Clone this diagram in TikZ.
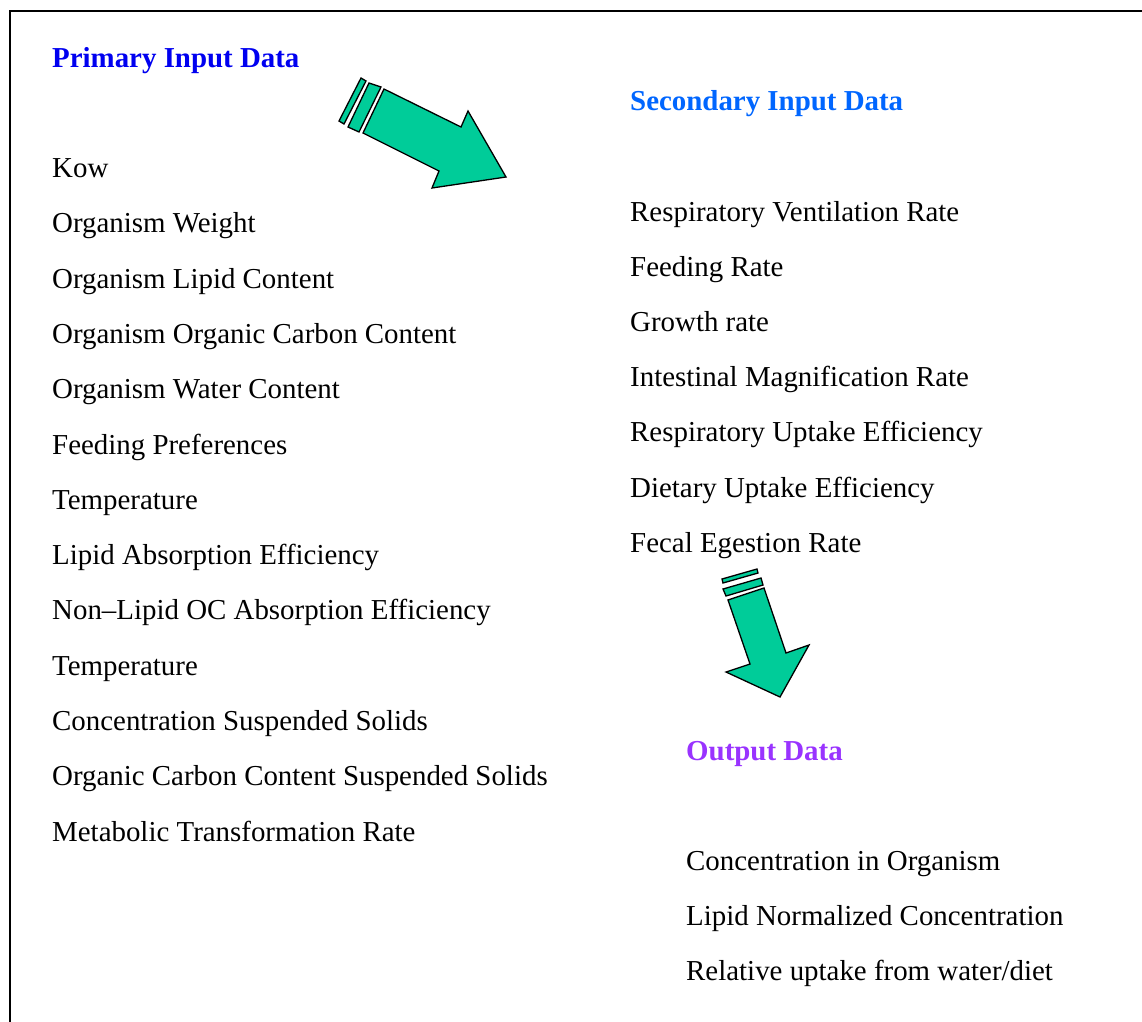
\documentclass[tikz,border=0pt]{standalone}
\usepackage{fontspec}
\setmainfont{Liberation Serif}
\definecolor{primblue}{RGB}{0,0,240}
\definecolor{secblue}{RGB}{0,102,255}
\definecolor{outpurple}{RGB}{153,51,255}
\definecolor{arrowgreen}{RGB}{0,204,153}
\tikzset{
  item/.style={anchor=base west, inner sep=0pt, font=\fontsize{28.9}{35}\selectfont},
  heading/.style={item, font=\fontsize{28.9}{35}\selectfont\bfseries},
  blockarrow/.style={fill=arrowgreen, draw=black, line width=1.3pt, line join=miter},
}
\begin{document}
\begin{tikzpicture}[x=1pt, y=-1pt]
\useasboundingbox (0,0) rectangle (1142,1021);
% frame
\draw[line width=2pt] (10,1030) |- (1150,11);

% headings
\node[heading, text=primblue] (hprim) at (52,67.5) {Primary Input Data};
\node[heading, text=secblue] (hsec) at (630,110.5) {Secondary Input Data};
\node[heading, text=outpurple] (hout) at (686,760.5) {Output Data};

% primary inputs
\foreach \t [count=\i from 0] in {Kow, Organism Weight, Organism Lipid Content,
  Organism Organic Carbon Content, Organism Water Content, Feeding Preferences,
  Temperature, Lipid Absorption Efficiency, Non--Lipid OC Absorption Efficiency,
  Temperature, Concentration Suspended Solids,
  Organic Carbon Content Suspended Solids, Metabolic Transformation Rate}
  \node[item] (p\i) at (52,177.5+55.3*\i) {\t};

% secondary inputs
\foreach \t [count=\i from 0] in {Respiratory Ventilation Rate, Feeding Rate,
  Growth rate, Intestinal Magnification Rate, Respiratory Uptake Efficiency,
  Dietary Uptake Efficiency, Fecal Egestion Rate}
  \node[item] (s\i) at (630,221+55.2*\i) {\t};

% outputs
\foreach \t [count=\i from 0] in {Concentration in Organism,
  Lipid Normalized Concentration, Relative uptake from water/diet}
  \node[item] (o\i) at (686,870.5+55*\i) {\t};

% arrow from primary to secondary
\draw[blockarrow] (361,78) -- (366,81) -- (344,124) -- (339,121) -- cycle;
\draw[blockarrow] (369,83) -- (381,87) -- (359,132) -- (348,127) -- cycle;
\draw[blockarrow] (384,89) -- (461,127) -- (468,111) -- (506,177) -- (432,188)
  -- (439,171) -- (363,133) -- cycle;

% arrow from secondary to output
\draw[blockarrow] (722,579) -- (757,569) -- (758,573) -- (723,583) -- cycle;
\draw[blockarrow] (723,589) -- (761,578) -- (763,585) -- (726,596) -- cycle;
\draw[blockarrow] (728,600) -- (764,588) -- (786,653) -- (809,645) -- (780,697)
  -- (726,672) -- (750,664) -- cycle;
\end{tikzpicture}
\end{document}
